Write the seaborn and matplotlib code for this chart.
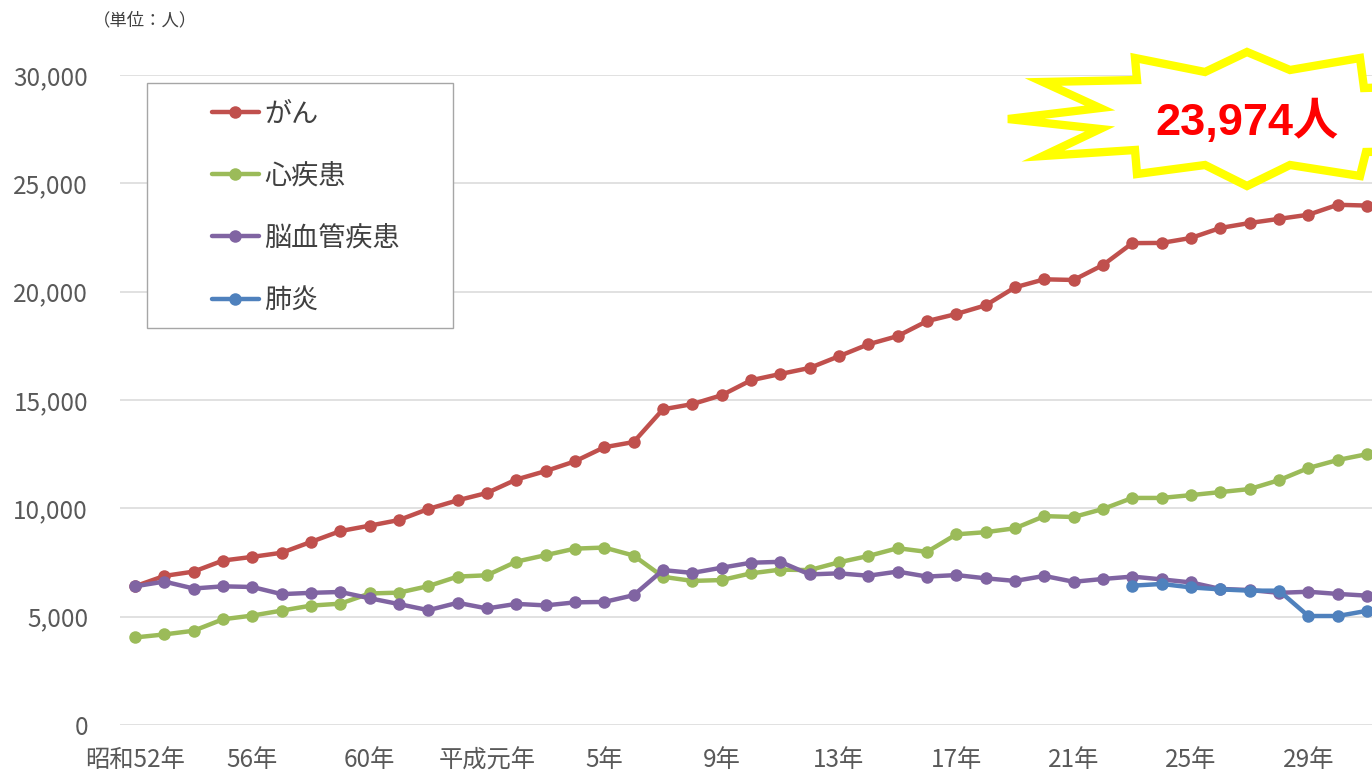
import matplotlib
matplotlib.use("Agg")
import matplotlib.pyplot as plt
import seaborn as sns
import pandas as pd
import numpy as np
from matplotlib.lines import Line2D
from matplotlib.patches import Polygon, Rectangle
from matplotlib.ticker import StrMethodFormatter

# Data: deaths by cause, 1977 (昭和52年) - 2019
years = list(range(1977, 2020))

cancer = [6400, 6880, 7080, 7590, 7760, 7950, 8450, 8950, 9200, 9460, 9970, 10370,
          10710, 11330, 11720, 12170, 12820, 13060, 14570, 14810, 15220, 15910, 16200,
          16480, 17020, 17570, 17950, 18640, 18970, 19370, 20200, 20570, 20540, 21230,
          22240, 22250, 22480, 22940, 23170, 23360, 23550, 24010, 23974]
heart = [4040, 4180, 4350, 4880, 5050, 5280, 5510, 5600, 6070, 6110, 6410, 6850,
         6910, 7540, 7840, 8140, 8190, 7820, 6840, 6650, 6690, 7000, 7170, 7150,
         7510, 7800, 8160, 7990, 8800, 8900, 9080, 9640, 9600, 9970, 10480, 10480,
         10610, 10750, 10890, 11300, 11860, 12230, 12500]
stroke = [6400, 6620, 6300, 6400, 6370, 6040, 6100, 6140, 5850, 5580, 5300, 5640,
          5380, 5590, 5520, 5660, 5680, 5990, 7150, 7020, 7260, 7490, 7530, 6950,
          7000, 6890, 7080, 6850, 6920, 6770, 6650, 6880, 6610, 6740, 6850, 6720,
          6580, 6280, 6230, 6100, 6150, 6050, 5970]
pneumonia = [np.nan] * 34 + [6430, 6510, 6350, 6260, 6200, 6200, 5030, 5030, 5270]

series_names = ["がん", "心疾患", "脳血管疾患", "肺炎"]
colors = ["#C0504D", "#9BBB59", "#8064A2", "#4F81BD"]

tick_years = list(range(1977, 2018, 4))
tick_labels = ["昭和52年", "56年", "60年", "平成元年", "5年", "9年", "13年",
               "17年", "21年", "25年", "29年"]

df = pd.DataFrame({"year": years, "がん": cancer, "心疾患": heart,
                   "脳血管疾患": stroke, "肺炎": pneumonia})
long_df = df.melt(id_vars="year", var_name="cause", value_name="deaths").dropna()

sns.set_style("white")
plt.rcParams["font.family"] = ["Noto Sans CJK JP", "DejaVu Sans"]

W, H = 1372, 774
fig = plt.figure(figsize=(W / 100, H / 100), dpi=100)
ax = fig.add_axes([120 / W, 1 - 725 / H, 1252 / W, 650 / H])

sns.lineplot(data=long_df, x="year", y="deaths", hue="cause",
             hue_order=series_names, palette=colors, marker="o",
             markersize=9, markeredgewidth=0, linewidth=3.2,
             legend=False, ax=ax)

ax.set_xlim(1976.49, 2019.17)
ax.set_ylim(0, 30000)
ax.set_yticks(range(0, 30001, 5000))
ax.yaxis.set_major_formatter(StrMethodFormatter("{x:,.0f}"))
ax.set_xticks(tick_years)
ax.set_xticklabels(tick_labels)
ax.tick_params(axis="y", length=0, pad=23, labelsize=17.5, labelcolor="#595959")
ax.tick_params(axis="x", length=0, pad=16, labelsize=17.5, labelcolor="#595959")
ax.grid(axis="y", color="#d9d9d9", linewidth=1.1)
ax.set_axisbelow(True)
ax.set_xlabel("")
ax.set_ylabel("")
for s in ax.spines.values():
    s.set_visible(False)

# overlay in pixel coordinates for decorations
ov = fig.add_axes([0, 0, 1, 1], zorder=5)
ov.set_xlim(0, W)
ov.set_ylim(H, 0)
ov.axis("off")
ov.patch.set_alpha(0)

ov.text(93, 20, "（単位：人）", fontsize=12.5, color="#404040", va="center", ha="left")

# legend box
ov.add_patch(Rectangle((147, 83), 306, 245, facecolor="white",
                       edgecolor="#a6a6a6", linewidth=1.0, zorder=1))
handles = [Line2D([0], [0], color=c, linewidth=3.2, marker="o", markersize=9,
                  markeredgewidth=0) for c in colors]
ov.legend(handles, series_names, loc="upper left",
          bbox_to_anchor=(198 / W, 1 - 87 / H), frameon=False, fontsize=19.5,
          labelspacing=1.3, handlelength=1.75, handletextpad=0.2,
          borderpad=0, labelcolor="#404040")

# starburst callout
burst = [(1135, 58), (1205, 72), (1247, 52), (1290, 70), (1360, 58), (1364, 88),
         (1460, 85), (1460, 150), (1366, 152), (1360, 176), (1290, 165),
         (1247, 186), (1205, 165), (1137, 174), (1135, 150), (1043, 156),
         (1100, 129), (1008, 119), (1100, 108), (1043, 82), (1137, 80)]
ov.add_patch(Polygon(burst, closed=True, facecolor="white", edgecolor="#FFFF00",
                     linewidth=6, joinstyle="miter", zorder=2))
ov.text(1247, 122, "23,974人", fontsize=32.5, fontweight="bold", color="#FF0000",
        ha="center", va="center", family=["Liberation Sans", "Noto Sans CJK JP"],
        zorder=3)

fig.savefig("out.png", dpi=100)
